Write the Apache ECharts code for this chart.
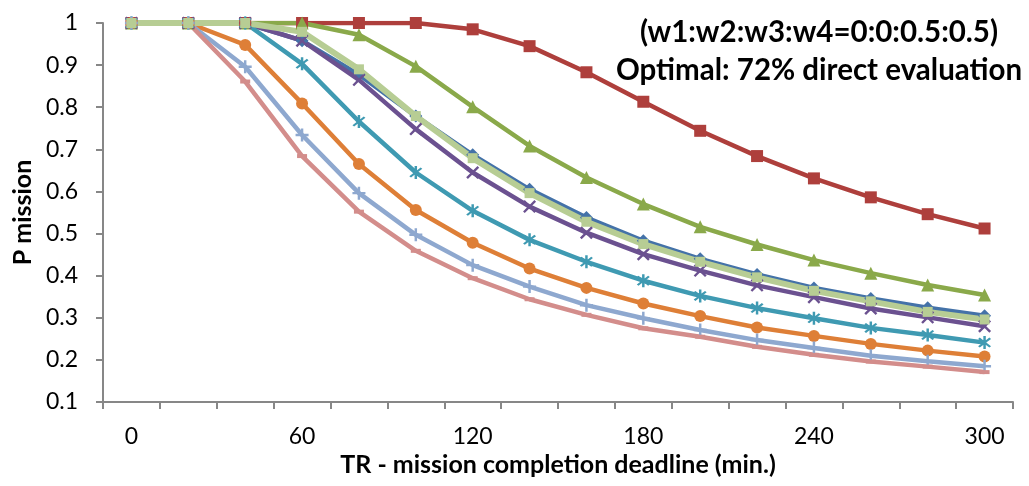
<!DOCTYPE html>
<html><head><meta charset="utf-8">
<script src="https://cdn.jsdelivr.net/npm/echarts@6/dist/echarts.min.js"></script>
<style>html,body{margin:0;padding:0;background:#fff}#c{width:1029px;height:486px}</style>
</head><body><div id="c"></div>
<script>
const categories = ['0','20','40','60','80','100','120','140','160','180','200','220','240','260','280','300'];
const blueDiamond = [1,1,1,0.958,0.877,0.779,0.687,0.605,0.538,0.483,0.440,0.403,0.371,0.346,0.324,0.305];
const redSquare   = [1,1,1,1,1,1,0.985,0.945,0.883,0.813,0.744,0.684,0.631,0.586,0.546,0.512];
const greenTri    = [1,1,1,1,0.972,0.897,0.801,0.708,0.633,0.570,0.516,0.474,0.437,0.406,0.378,0.354];
const purpleX     = [1,1,1,0.958,0.865,0.748,0.645,0.564,0.502,0.451,0.412,0.377,0.349,0.322,0.301,0.280];
const tealStar    = [1,1,1,0.903,0.766,0.645,0.554,0.485,0.433,0.388,0.352,0.323,0.299,0.276,0.259,0.241];
const orangeCirc  = [1,1,0.948,0.809,0.665,0.556,0.478,0.417,0.371,0.334,0.304,0.277,0.257,0.238,0.222,0.208];
const lightBlue   = [1,1,0.896,0.734,0.596,0.497,0.425,0.374,0.330,0.299,0.271,0.247,0.228,0.210,0.197,0.185];
const pinkDash    = [1,1,0.861,0.684,0.552,0.459,0.394,0.344,0.307,0.275,0.255,0.231,0.212,0.196,0.184,0.171];
const lightGreen  = [1,1,1,0.979,0.890,0.779,0.679,0.596,0.528,0.475,0.433,0.396,0.364,0.339,0.314,0.296];
const titleLines = ['(w1:w2:w3:w4=0:0:0.5:0.5)','Optimal: 72% direct evaluation'];
const xName = 'TR - mission completion deadline (min.)';
const yName = 'P mission';

const FONT = 'Lato, "Open Sans", sans-serif';
const X_SYM = 'path://M1.3,0L5,3.7L8.7,0L10,1.3L6.3,5L10,8.7L8.7,10L5,6.3L1.3,10L0,8.7L3.7,5L0,1.3Z';
const STAR_SYM = 'path://M1.3,0L5,3.7L8.7,0L10,1.3L6.3,5L10,8.7L8.7,10L5,6.3L1.3,10L0,8.7L3.7,5L0,1.3Z M4.05,-1.5H5.95V11.5H4.05Z';
const PLUS_SYM = 'path://M4.05,0H5.95V4.05H10V5.95H5.95V10H4.05V5.95H0V4.05H4.05Z';

function mk(name, data, color, symbol, size, width) {
  return {
    name, type: 'line', data, symbol, symbolSize: size,
    lineStyle: {color, width: width || 4.5},
    itemStyle: {color, borderColor: color, borderWidth: 0},
    emphasis: {disabled: true}, animation: false
  };
}

const chart = echarts.init(document.getElementById('c'));
chart.setOption({
  animation: false,
  grid: {left: 103, right: 16, top: 23, bottom: 84, containLabel: false},
  xAxis: {
    type: 'category', data: categories, boundaryGap: true,
    name: xName, nameLocation: 'middle', nameGap: 43,
    nameTextStyle: {fontFamily: FONT, fontWeight: 'bold', fontSize: 25, color: '#000'},
    axisLine: {lineStyle: {color: '#878787', width: 2}},
    axisTick: {show: true, interval: 0, length: 7, lineStyle: {color: '#878787', width: 2}},
    axisLabel: {interval: 2, fontFamily: FONT, fontSize: 23, color: '#000', margin: 23},
    splitLine: {show: false}
  },
  yAxis: {
    type: 'value', min: 0.1, max: 1, interval: 0.1,
    name: yName, nameLocation: 'middle', nameGap: 68, nameRotate: 90,
    nameTextStyle: {fontFamily: FONT, fontWeight: 'bold', fontSize: 25, color: '#000'},
    axisLine: {show: true, lineStyle: {color: '#878787', width: 2}},
    axisTick: {show: true, length: 7, lineStyle: {color: '#878787', width: 2}},
    axisLabel: {fontFamily: FONT, fontSize: 23, color: '#000', margin: 25,
      formatter: v => String(Math.round(v * 10) / 10)},
    splitLine: {show: false}
  },
  graphic: [{
    type: 'text', x: 819, y: 13, z: 100,
    style: {text: titleLines.join('\n'), textAlign: 'center', fontFamily: FONT,
      fontWeight: 'bold', fontSize: 29.5, lineHeight: 38, fill: '#000'}
  }],
  series: [
    mk('s1', blueDiamond, '#4472A8', 'diamond', 13),
    mk('s2', redSquare, '#AE3F3C', 'rect', 12),
    mk('s3', greenTri, '#8AA94A', 'triangle', 13),
    mk('s4', purpleX, '#6B5190', X_SYM, 13),
    mk('s5', tealStar, '#3F9AB2', STAR_SYM, 13),
    mk('s6', orangeCirc, '#DE7F37', 'circle', 12),
    mk('s7', lightBlue, '#8EA8CF', PLUS_SYM, 13),
    mk('s8', pinkDash, '#D38D8B', 'rect', [10, 4]),
    mk('s9', lightGreen, '#B7CD94', 'rect', 10, 6)
  ]
});
</script></body></html>
